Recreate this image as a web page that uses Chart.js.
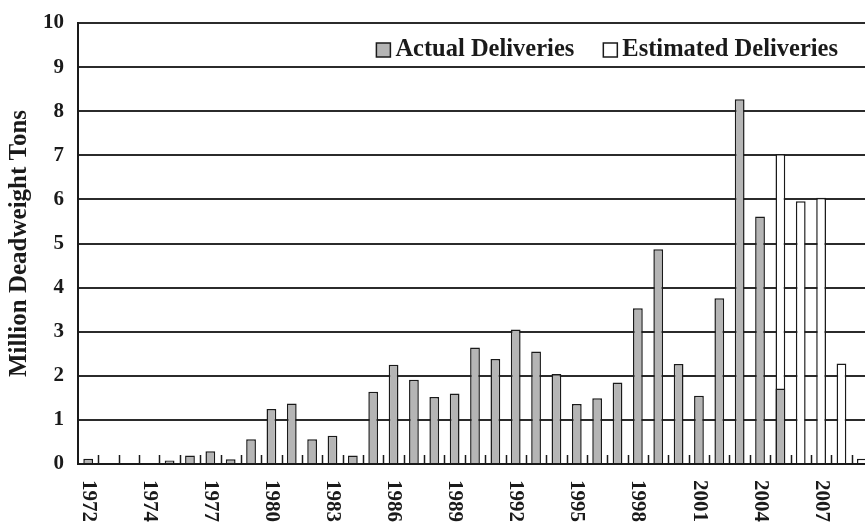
<!DOCTYPE html>
<html>
<head>
<meta charset="utf-8">
<title>Deliveries</title>
<script src="https://cdn.jsdelivr.net/npm/chart.js@4.4.1/dist/chart.umd.min.js"></script>
<style>
    html, body { margin: 0; padding: 0; background: #fff; overflow: hidden; }
    #wrap { position: relative; width: 880px; height: 527px; }
</style>
</head>
<body>
<div id="wrap"><canvas id="deliveriesChart"></canvas></div>
<script>
// One slot per year, only every third slot carries a label (as printed in the original)
const yearLabels = ['1972', '', '', '1974', '', '', '1977', '', '', '1980', '', '',
    '1983', '', '', '1986', '', '', '1989', '', '', '1992', '', '', '1995', '', '',
    '1998', '', '', '2001', '', '', '2004', '', '', '2007', '', ''];

const actualDeliveries = [0.12, null, null, null, 0.08, 0.19, 0.29, 0.11, 0.56, 1.25,
    1.37, 0.56, 0.64, 0.19, 1.64, 2.25, 1.91, 1.52, 1.60, 2.64,
    2.38, 3.05, 2.55, 2.04, 1.36, 1.49, 1.85, 3.53, 4.87, 2.27,
    1.55, 3.76, 8.27, 5.61, 1.71, null, null, null, null];

const estimatedDeliveries = [null, null, null, null, null, null, null, null, null, null,
    null, null, null, null, null, null, null, null, null, null,
    null, null, null, null, null, null, null, null, null, null,
    null, null, null, null, 7.03, 5.96, 6.04, 2.28, 0.12];

const yTicks = [0, 1, 2, 3, 4, 5, 6, 7, 8, 9, 10];

const SERIF = "'Liberation Serif', 'Times New Roman', serif";
const INK = '#1a1a1a';

// inner tick marks, rotated year labels and the legend inside the plot
const extrasPlugin = {
    id: 'extras',
    afterDatasetsDraw(chart) {
        const { ctx, chartArea, scales: { x } } = chart;
        const half = (x.getPixelForValue(1) - x.getPixelForValue(0)) / 2;
        ctx.save();
        ctx.strokeStyle = INK;
        ctx.lineWidth = 1.5;
        ctx.beginPath();
        for (let i = 0; i < yearLabels.length; i++) {
            const px = Math.round(x.getPixelForValue(i) + half) + 0.5;
            ctx.moveTo(px, chartArea.bottom);
            ctx.lineTo(px, chartArea.bottom - 9);
        }
        ctx.stroke();
        ctx.restore();
    },
    afterDraw(chart) {
        const { ctx, chartArea, scales: { x } } = chart;
        ctx.save();
        ctx.fillStyle = INK;
        ctx.font = 'bold 21px ' + SERIF;
        ctx.textAlign = 'left';
        ctx.textBaseline = 'middle';
        yearLabels.forEach((lbl, i) => {
            if (!lbl) return;
            ctx.save();
            ctx.translate(x.getPixelForValue(i), chartArea.bottom + 16);
            ctx.rotate(Math.PI / 2);
            ctx.fillText(lbl, 0, 0);
            ctx.restore();
        });

        // legend
        ctx.font = 'bold 24.5px ' + SERIF;
        const sets = chart.data.datasets;
        const boxSize = 14, boxGap = 5, itemGap = 29;
        const y = chartArea.top + 27;
        let cursor = chartArea.right - 34;
        for (let i = sets.length - 1; i >= 0; i--) {
            const w = ctx.measureText(sets[i].label).width;
            const textX = cursor - w;
            ctx.fillStyle = INK;
            ctx.fillText(sets[i].label, textX, y);
            const bx = textX - boxGap - boxSize;
            ctx.fillStyle = sets[i].backgroundColor;
            ctx.fillRect(bx, y - boxSize / 2, boxSize, boxSize);
            ctx.strokeStyle = INK;
            ctx.lineWidth = 1.5;
            ctx.strokeRect(bx, y - boxSize / 2, boxSize, boxSize);
            cursor = bx - itemGap;
        }
        ctx.restore();
    }
};

Chart.defaults.font.family = SERIF;
Chart.defaults.color = INK;

const ctx = document.getElementById('deliveriesChart').getContext('2d');
new Chart(ctx, {
    type: 'bar',
    data: {
        labels: yearLabels,
        datasets: [{
            label: 'Actual Deliveries',
            data: actualDeliveries,
            backgroundColor: '#b5b5b5',
            borderColor: INK,
            borderWidth: 1.5
        }, {
            label: 'Estimated Deliveries',
            data: estimatedDeliveries,
            backgroundColor: '#ffffff',
            borderColor: INK,
            borderWidth: 1.5
        }]
    },
    options: {
        responsive: true,
        maintainAspectRatio: false,
        animation: false,
        events: [],
        layout: { padding: { top: 23, right: 8, bottom: 55, left: 0 } },
        datasets: { bar: { categoryPercentage: 1, barPercentage: 0.48 } },
        plugins: {
            legend: { display: false },
            tooltip: { enabled: false }
        },
        scales: {
            x: {
                stacked: true,
                offset: true,
                ticks: { display: false },
                grid: { display: false },
                border: { display: true, color: INK, width: 2 }
            },
            y: {
                stacked: false,
                min: yTicks[0],
                max: yTicks[yTicks.length - 1],
                afterBuildTicks: (scale) => { scale.ticks = yTicks.map(v => ({ value: v })); },
                afterFit: (scale) => { scale.width = 78; scale.paddingTop = 0; },
                ticks: {
                    font: { size: 21, weight: 'bold' },
                    color: INK,
                    padding: 14
                },
                grid: { color: '#2b2b2b', lineWidth: 2, drawTicks: false },
                border: { display: true, color: INK, width: 2 },
                title: {
                    display: true,
                    text: 'Million Deadweight Tons',
                    font: { size: 25, weight: 'bold' },
                    color: INK,
                    padding: { top: 5, bottom: 0 }
                }
            }
        }
    },
    plugins: [extrasPlugin]
});
</script>
</body>
</html>
